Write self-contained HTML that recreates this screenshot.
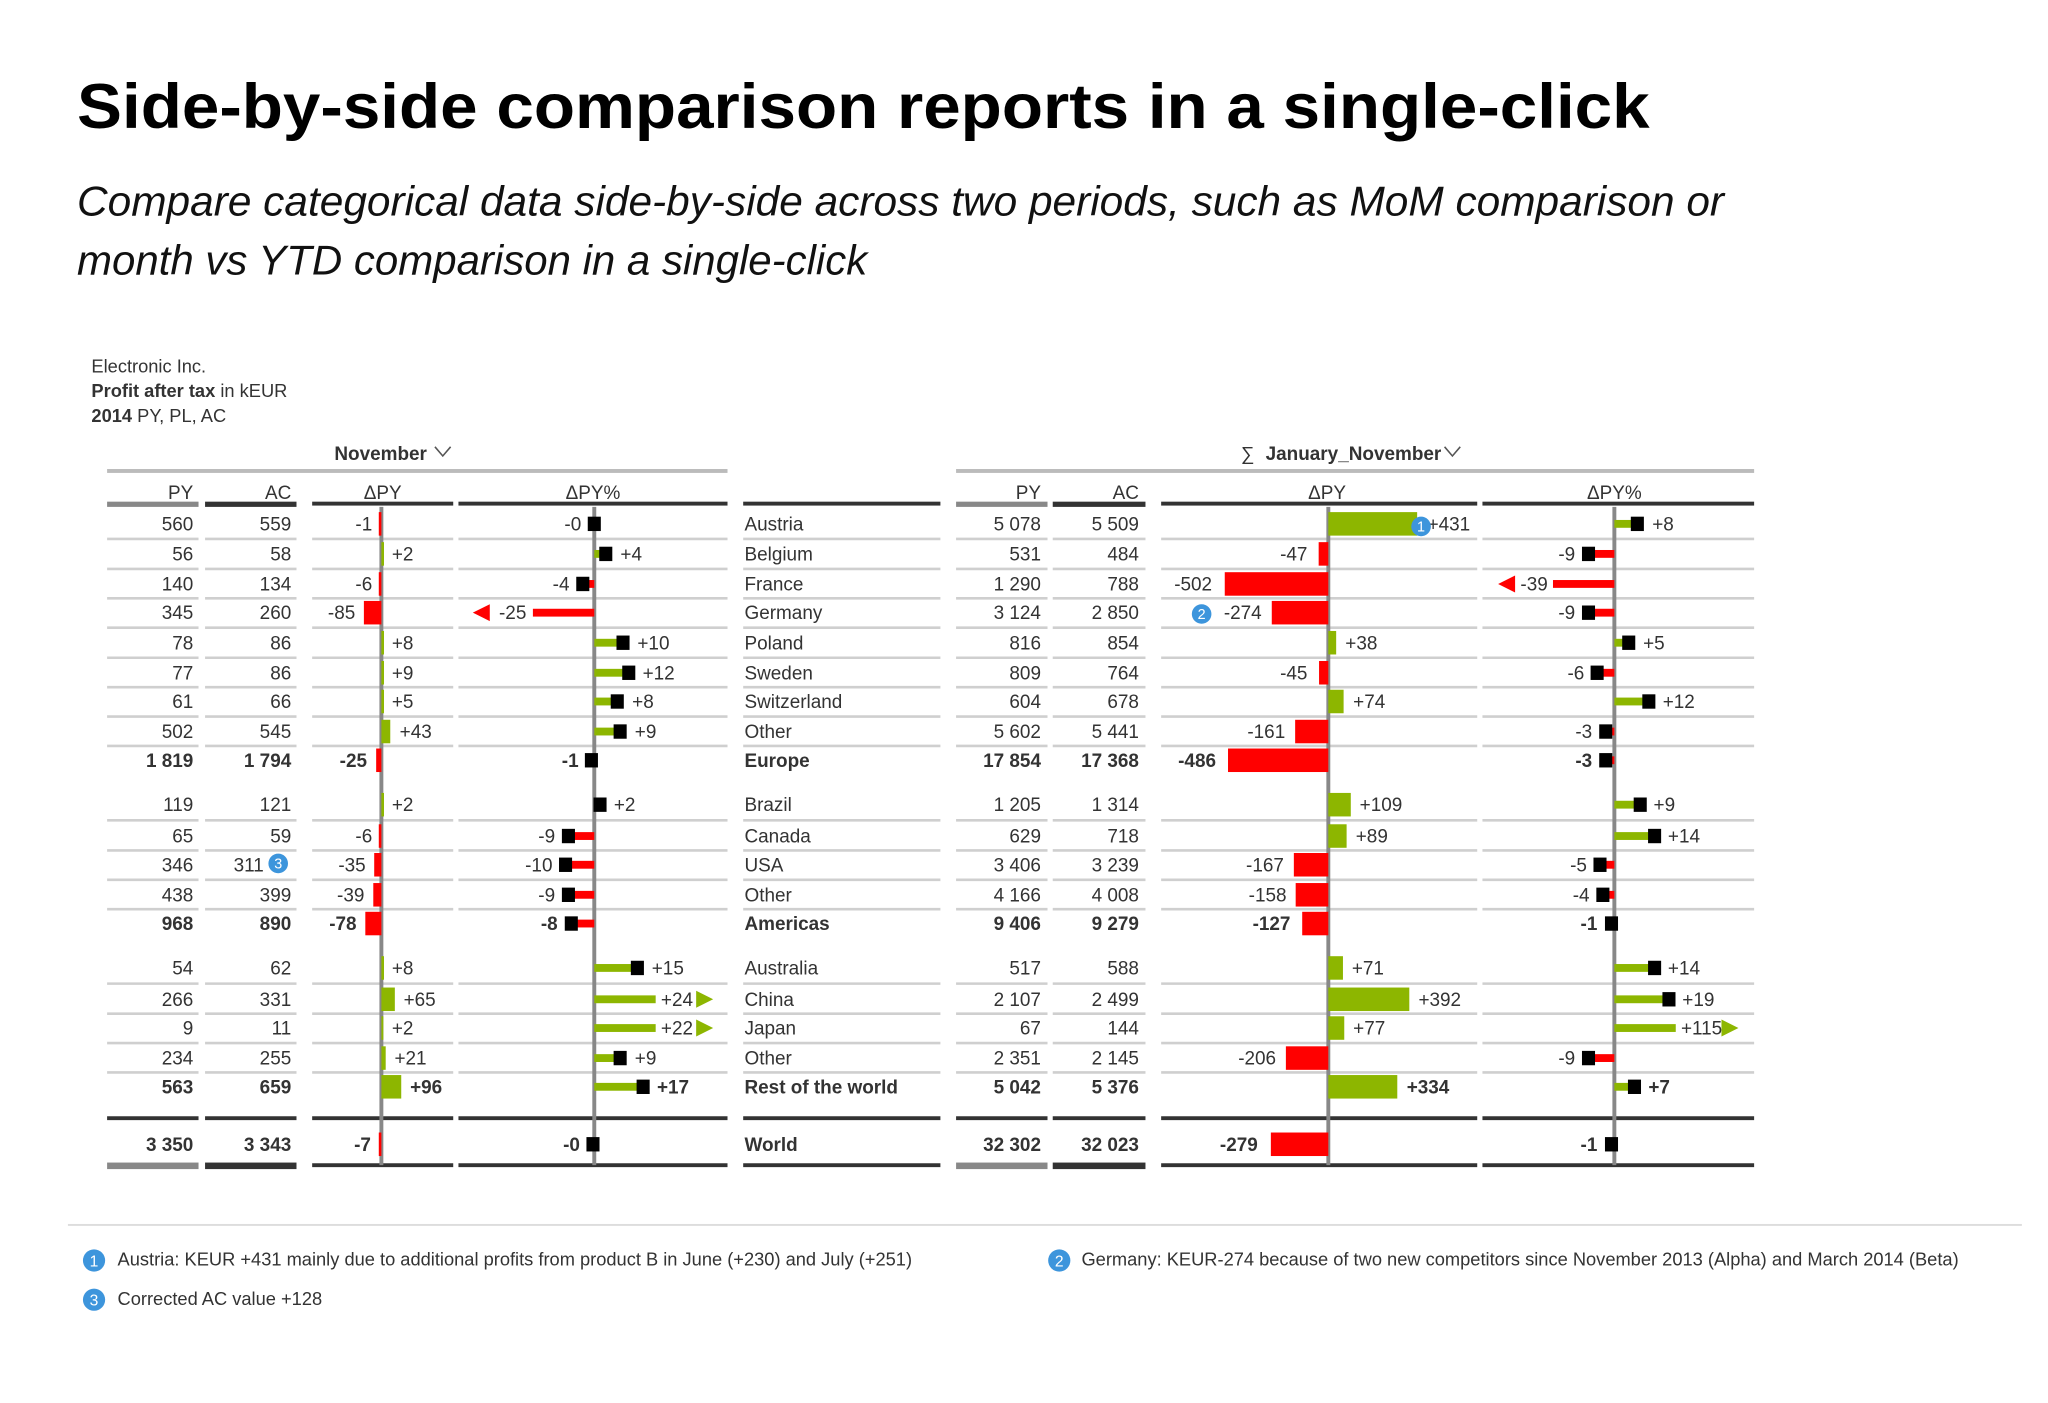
<!DOCTYPE html>
<html><head><meta charset="utf-8"><style>
html,body{margin:0;padding:0;background:#fff;width:2048px;height:1403px;overflow:hidden}
svg{display:block}
text{font-family:"Liberation Sans Narrow","Liberation Sans",sans-serif;fill:#333;font-size:14.5px}
.t{font-family:"Liberation Sans",sans-serif;fill:#000}
.b{font-weight:bold}
.e{text-anchor:end}
.m{text-anchor:middle}
.g{fill:#8db600}.r{fill:#ff0000}.k{fill:#000}
.sep{stroke:#cfcfcf;stroke-width:2}
.s14{font-size:14px}
.n{font-size:11px;fill:#fff}
.n2{font-size:12px;fill:#fff}
</style></head><body>
<svg width="2048" height="1403" viewBox="0 0 1568 1074" xmlns="http://www.w3.org/2000/svg">
<text class="t b" x="59" y="98" style="font-size:48px" textLength="1204" lengthAdjust="spacingAndGlyphs">Side-by-side comparison reports in a single-click</text>
<text class="t" x="59" y="165" style="font-size:32px;font-style:italic;fill:#111" textLength="1261" lengthAdjust="spacingAndGlyphs">Compare categorical data side-by-side across two periods, such as MoM comparison or</text>
<text class="t" x="59" y="210" style="font-size:32px;font-style:italic;fill:#111" textLength="605" lengthAdjust="spacingAndGlyphs">month vs YTD comparison in a single-click</text>

<text class="s14" x="70" y="285">Electronic Inc.</text>
<text class="s14" x="70" y="304"><tspan class="b">Profit after tax</tspan> in kEUR</text>
<text class="s14" x="70" y="323"><tspan class="b">2014</tspan> PY, PL, AC</text>

<text class="b" x="256" y="352">November</text>
<path d="M333 342 l6 7 l6 -7" stroke="#555" fill="none" stroke-width="1.2"/>
<text x="950" y="352">∑</text>
<text class="b" x="969" y="352">January_November</text>
<path d="M1106 342 l6 7 l6 -7" stroke="#555" fill="none" stroke-width="1.2"/>
<rect x="82" y="359" width="475" height="3" fill="#bbb"/>
<rect x="732" y="359" width="611" height="3" fill="#bbb"/>

<text class="e" x="148" y="382">PY</text><text class="e" x="223" y="382">AC</text>
<text class="m" x="293" y="382">ΔPY</text><text class="m" x="454" y="382">ΔPY%</text>
<text class="e" x="797" y="382">PY</text><text class="e" x="872" y="382">AC</text>
<text class="m" x="1016" y="382">ΔPY</text><text class="m" x="1236" y="382">ΔPY%</text>
<g>
<rect x="82" y="384" width="70" height="4" fill="#888"/><rect x="157" y="384" width="70" height="4" fill="#333"/>
<rect x="239" y="384" width="108" height="3" fill="#333"/><rect x="351" y="384" width="206" height="3" fill="#333"/>
<rect x="569" y="384" width="151" height="3" fill="#333"/>
<rect x="732" y="384" width="70" height="4" fill="#888"/><rect x="806" y="384" width="71" height="4" fill="#333"/>
<rect x="889" y="384" width="242" height="3" fill="#333"/><rect x="1135" y="384" width="208" height="3" fill="#333"/>
</g>

<defs><g id="sp">
<path class="sep" d="M82 0H152M157 0H227M239 0H347M351 0H557M569 0H720M732 0H802M806 0H877M889 0H1131M1135 0H1343"/>
</g>
<g id="dk">
<path d="M82 0H152M157 0H227M239 0H347M351 0H557M569 0H720M732 0H802M806 0H877M889 0H1131M1135 0H1343" stroke="#333" stroke-width="3"/>
</g></defs>
<use href="#sp" y="412.5"/><use href="#sp" y="435.5"/><use href="#sp" y="458"/><use href="#sp" y="480.5"/><use href="#sp" y="503.5"/><use href="#sp" y="526"/><use href="#sp" y="548.5"/><use href="#sp" y="571"/>
<use href="#sp" y="628"/><use href="#sp" y="651"/><use href="#sp" y="673.5"/><use href="#sp" y="696"/>
<use href="#sp" y="753"/><use href="#sp" y="776"/><use href="#sp" y="798.5"/><use href="#sp" y="821"/>
<use href="#dk" y="856"/>
<path d="M239 892H347M351 892H557M569 892H720M889 892H1131M1135 892H1343" stroke="#333" stroke-width="3"/>
<rect x="82" y="890" width="70" height="5" fill="#888"/><rect x="157" y="890" width="70" height="5" fill="#333"/>
<rect x="732" y="890" width="70" height="5" fill="#888"/><rect x="806" y="890" width="71" height="5" fill="#333"/>

<!-- axes -->
<g stroke="#888" stroke-width="3">
<path d="M292 388V892M455 388V892M1017 388V892M1236 388V892"/>
</g>

<g>
<text class="e" x="148" y="406">560</text><text class="e" x="223" y="406">559</text>
<text class="e" x="148" y="429">56</text><text class="e" x="223" y="429">58</text>
<text class="e" x="148" y="452">140</text><text class="e" x="223" y="452">134</text>
<text class="e" x="148" y="474">345</text><text class="e" x="223" y="474">260</text>
<text class="e" x="148" y="497">78</text><text class="e" x="223" y="497">86</text>
<text class="e" x="148" y="520">77</text><text class="e" x="223" y="520">86</text>
<text class="e" x="148" y="542">61</text><text class="e" x="223" y="542">66</text>
<text class="e" x="148" y="565">502</text><text class="e" x="223" y="565">545</text>
<text class="e b" x="148" y="587">1 819</text><text class="e b" x="223" y="587">1 794</text>
<text class="e" x="148" y="621">119</text><text class="e" x="223" y="621">121</text>
<text class="e" x="148" y="645">65</text><text class="e" x="223" y="645">59</text>
<text class="e" x="148" y="667">346</text><text class="e" x="202" y="667">311</text>
<text class="e" x="148" y="690">438</text><text class="e" x="223" y="690">399</text>
<text class="e b" x="148" y="712">968</text><text class="e b" x="223" y="712">890</text>
<text class="e" x="148" y="746">54</text><text class="e" x="223" y="746">62</text>
<text class="e" x="148" y="770">266</text><text class="e" x="223" y="770">331</text>
<text class="e" x="148" y="792">9</text><text class="e" x="223" y="792">11</text>
<text class="e" x="148" y="815">234</text><text class="e" x="223" y="815">255</text>
<text class="e b" x="148" y="837">563</text><text class="e b" x="223" y="837">659</text>
<text class="e b" x="148" y="881">3 350</text><text class="e b" x="223" y="881">3 343</text>
</g>
<g>
<text x="570" y="406">Austria</text><text x="570" y="429">Belgium</text><text x="570" y="452">France</text><text x="570" y="474">Germany</text>
<text x="570" y="497">Poland</text><text x="570" y="520">Sweden</text><text x="570" y="542">Switzerland</text><text x="570" y="565">Other</text>
<text class="b" x="570" y="587">Europe</text>
<text x="570" y="621">Brazil</text><text x="570" y="645">Canada</text><text x="570" y="667">USA</text><text x="570" y="690">Other</text>
<text class="b" x="570" y="712">Americas</text>
<text x="570" y="746">Australia</text><text x="570" y="770">China</text><text x="570" y="792">Japan</text><text x="570" y="815">Other</text>
<text class="b" x="570" y="837">Rest of the world</text>
<text class="b" x="570" y="881">World</text>
</g>
<g>
<text class="e" x="797" y="406">5 078</text><text class="e" x="872" y="406">5 509</text>
<text class="e" x="797" y="429">531</text><text class="e" x="872" y="429">484</text>
<text class="e" x="797" y="452">1 290</text><text class="e" x="872" y="452">788</text>
<text class="e" x="797" y="474">3 124</text><text class="e" x="872" y="474">2 850</text>
<text class="e" x="797" y="497">816</text><text class="e" x="872" y="497">854</text>
<text class="e" x="797" y="520">809</text><text class="e" x="872" y="520">764</text>
<text class="e" x="797" y="542">604</text><text class="e" x="872" y="542">678</text>
<text class="e" x="797" y="565">5 602</text><text class="e" x="872" y="565">5 441</text>
<text class="e b" x="797" y="587">17 854</text><text class="e b" x="872" y="587">17 368</text>
<text class="e" x="797" y="621">1 205</text><text class="e" x="872" y="621">1 314</text>
<text class="e" x="797" y="645">629</text><text class="e" x="872" y="645">718</text>
<text class="e" x="797" y="667">3 406</text><text class="e" x="872" y="667">3 239</text>
<text class="e" x="797" y="690">4 166</text><text class="e" x="872" y="690">4 008</text>
<text class="e b" x="797" y="712">9 406</text><text class="e b" x="872" y="712">9 279</text>
<text class="e" x="797" y="746">517</text><text class="e" x="872" y="746">588</text>
<text class="e" x="797" y="770">2 107</text><text class="e" x="872" y="770">2 499</text>
<text class="e" x="797" y="792">67</text><text class="e" x="872" y="792">144</text>
<text class="e" x="797" y="815">2 351</text><text class="e" x="872" y="815">2 145</text>
<text class="e b" x="797" y="837">5 042</text><text class="e b" x="872" y="837">5 376</text>
<text class="e b" x="797" y="881">32 302</text><text class="e b" x="872" y="881">32 023</text>
</g>

<g>
<rect class="r" x="290" y="392" width="2" height="18"/><text class="e" x="285" y="406">-1</text>
<rect class="g" x="292" y="415" width="2" height="18"/><text x="300" y="429">+2</text>
<rect class="r" x="290" y="438" width="2" height="18"/><text class="e" x="285" y="452">-6</text>
<rect class="r" x="278.6" y="460" width="13.4" height="18"/><text class="e" x="272" y="474">-85</text>
<rect class="g" x="292" y="483" width="2" height="18"/><text x="300" y="497">+8</text>
<rect class="g" x="292" y="506" width="2" height="18"/><text x="300" y="520">+9</text>
<rect class="g" x="292" y="528" width="2" height="18"/><text x="300" y="542">+5</text>
<rect class="g" x="292" y="551" width="6.8" height="18"/><text x="306" y="565">+43</text>
<rect class="r" x="288" y="573" width="4" height="18"/><text class="e b" x="281" y="587">-25</text>
<rect class="g" x="292" y="607" width="2" height="18"/><text x="300" y="621">+2</text>
<rect class="r" x="290" y="631" width="2" height="18"/><text class="e" x="285" y="645">-6</text>
<rect class="r" x="286.5" y="653" width="5.5" height="18"/><text class="e" x="280" y="667">-35</text>
<rect class="r" x="285.8" y="676" width="6.2" height="18"/><text class="e" x="279" y="690">-39</text>
<rect class="r" x="279.7" y="698" width="12.3" height="18"/><text class="e b" x="273" y="712">-78</text>
<rect class="g" x="292" y="732" width="2" height="18"/><text x="300" y="746">+8</text>
<rect class="g" x="292" y="756" width="10.3" height="18"/><text x="309" y="770">+65</text>
<rect class="g" x="292" y="778" width="1.5" height="18"/><text x="300" y="792">+2</text>
<rect class="g" x="292" y="801" width="3.3" height="18"/><text x="302" y="815">+21</text>
<rect class="g" x="292" y="823" width="15.2" height="18"/><text class="b" x="314" y="837">+96</text>
<rect class="r" x="290" y="867" width="2" height="18"/><text class="e b" x="284" y="881">-7</text>
</g>

<g>
<rect class="k" x="450" y="395.5" width="10" height="11"/><text class="e" x="445" y="406">-0</text>
<rect class="g" x="455" y="421" width="8.8" height="6"/><rect class="k" x="458.8" y="418.5" width="10" height="11"/><text x="475" y="429">+4</text>
<rect class="r" x="446.2" y="444" width="8.8" height="6"/><rect class="k" x="441.2" y="441.5" width="10" height="11"/><text class="e" x="436" y="452">-4</text>
<rect class="r" x="408" y="466" width="47" height="6"/><text class="e" x="403" y="474">-25</text><path class="r" d="M362 469 L375 462.5 L375 475.5Z"/>
<rect class="g" x="455" y="489" width="22" height="6"/><rect class="k" x="472" y="486.5" width="10" height="11"/><text x="488" y="497">+10</text>
<rect class="g" x="455" y="512" width="26.4" height="6"/><rect class="k" x="476.4" y="509.5" width="10" height="11"/><text x="492" y="520">+12</text>
<rect class="g" x="455" y="534" width="17.6" height="6"/><rect class="k" x="467.6" y="531.5" width="10" height="11"/><text x="484" y="542">+8</text>
<rect class="g" x="455" y="557" width="19.8" height="6"/><rect class="k" x="469.8" y="554.5" width="10" height="11"/><text x="486" y="565">+9</text>
<rect class="k" x="447.8" y="576.5" width="10" height="11"/><text class="e b" x="443" y="587">-1</text>
<rect class="g" x="455" y="613" width="4.4" height="6"/><rect class="k" x="454.4" y="610.5" width="10" height="11"/><text x="470" y="621">+2</text>
<rect class="r" x="435.2" y="637" width="19.8" height="6"/><rect class="k" x="430.2" y="634.5" width="10" height="11"/><text class="e" x="425" y="645">-9</text>
<rect class="r" x="433" y="659" width="22" height="6"/><rect class="k" x="428" y="656.5" width="10" height="11"/><text class="e" x="423" y="667">-10</text>
<rect class="r" x="435.2" y="682" width="19.8" height="6"/><rect class="k" x="430.2" y="679.5" width="10" height="11"/><text class="e" x="425" y="690">-9</text>
<rect class="r" x="437.4" y="704" width="17.6" height="6"/><rect class="k" x="432.4" y="701.5" width="10" height="11"/><text class="e b" x="427" y="712">-8</text>
<rect class="g" x="455" y="738" width="33" height="6"/><rect class="k" x="483" y="735.5" width="10" height="11"/><text x="499" y="746">+15</text>
<rect class="g" x="455" y="762" width="47" height="6"/><text x="506" y="770">+24</text><path class="g" d="M546 765 L533 758.5 L533 771.5Z"/>
<rect class="g" x="455" y="784" width="47" height="6"/><text x="506" y="792">+22</text><path class="g" d="M546 787 L533 780.5 L533 793.5Z"/>
<rect class="g" x="455" y="807" width="19.8" height="6"/><rect class="k" x="469.8" y="804.5" width="10" height="11"/><text x="486" y="815">+9</text>
<rect class="g" x="455" y="829" width="37.4" height="6"/><rect class="k" x="487.4" y="826.5" width="10" height="11"/><text class="b" x="503" y="837">+17</text>
<rect class="k" x="449" y="870.5" width="10" height="11"/><text class="e b" x="444" y="881">-0</text>
</g>

<g>
<rect class="g" x="1017" y="392" width="68" height="18"/><text x="1093" y="406">+431</text>
<rect class="r" x="1009.6" y="415" width="7.4" height="18"/><text class="e" x="1001" y="429">-47</text>
<rect class="r" x="937.7" y="438" width="79.3" height="18"/><text class="e" x="928" y="452">-502</text>
<rect class="r" x="973.7" y="460" width="43.3" height="18"/><text class="e" x="966" y="474">-274</text>
<rect class="g" x="1017" y="483" width="6" height="18"/><text x="1030" y="497">+38</text>
<rect class="r" x="1009.9" y="506" width="7.1" height="18"/><text class="e" x="1001" y="520">-45</text>
<rect class="g" x="1017" y="528" width="11.7" height="18"/><text x="1036" y="542">+74</text>
<rect class="r" x="991.6" y="551" width="25.4" height="18"/><text class="e" x="984" y="565">-161</text>
<rect class="r" x="940.2" y="573" width="76.8" height="18"/><text class="e b" x="931" y="587">-486</text>
<rect class="g" x="1017" y="607" width="17.2" height="18"/><text x="1041" y="621">+109</text>
<rect class="g" x="1017" y="631" width="14" height="18"/><text x="1038" y="645">+89</text>
<rect class="r" x="990.6" y="653" width="26.4" height="18"/><text class="e" x="983" y="667">-167</text>
<rect class="r" x="992" y="676" width="25" height="18"/><text class="e" x="985" y="690">-158</text>
<rect class="r" x="997" y="698" width="20" height="18"/><text class="e b" x="988" y="712">-127</text>
<rect class="g" x="1017" y="732" width="11.2" height="18"/><text x="1035" y="746">+71</text>
<rect class="g" x="1017" y="756" width="62" height="18"/><text x="1086" y="770">+392</text>
<rect class="g" x="1017" y="778" width="12.2" height="18"/><text x="1036" y="792">+77</text>
<rect class="r" x="984.5" y="801" width="32.5" height="18"/><text class="e" x="977" y="815">-206</text>
<rect class="g" x="1017" y="823" width="52.8" height="18"/><text class="b" x="1077" y="837">+334</text>
<rect class="r" x="973" y="867" width="44" height="18"/><text class="e b" x="963" y="881">-279</text>
</g>

<g>
<rect class="g" x="1236" y="398" width="17.6" height="6"/><rect class="k" x="1248.6" y="395.5" width="10" height="11"/><text x="1265" y="406">+8</text>
<rect class="r" x="1216.2" y="421" width="19.8" height="6"/><rect class="k" x="1211.2" y="418.5" width="10" height="11"/><text class="e" x="1206" y="429">-9</text>
<rect class="r" x="1189" y="444" width="47" height="6"/><text class="e" x="1185" y="452">-39</text><path class="r" d="M1147 447 L1160 440.5 L1160 453.5Z"/>
<rect class="r" x="1216.2" y="466" width="19.8" height="6"/><rect class="k" x="1211.2" y="463.5" width="10" height="11"/><text class="e" x="1206" y="474">-9</text>
<rect class="g" x="1236" y="489" width="11" height="6"/><rect class="k" x="1242" y="486.5" width="10" height="11"/><text x="1258" y="497">+5</text>
<rect class="r" x="1222.8" y="512" width="13.2" height="6"/><rect class="k" x="1217.8" y="509.5" width="10" height="11"/><text class="e" x="1213" y="520">-6</text>
<rect class="g" x="1236" y="534" width="26.4" height="6"/><rect class="k" x="1257.4" y="531.5" width="10" height="11"/><text x="1273" y="542">+12</text>
<rect class="r" x="1229.4" y="557" width="6.6" height="6"/><rect class="k" x="1224.4" y="554.5" width="10" height="11"/><text class="e" x="1219" y="565">-3</text>
<rect class="r" x="1229.4" y="579" width="6.6" height="6"/><rect class="k" x="1224.4" y="576.5" width="10" height="11"/><text class="e b" x="1219" y="587">-3</text>
<rect class="g" x="1236" y="613" width="19.8" height="6"/><rect class="k" x="1250.8" y="610.5" width="10" height="11"/><text x="1266" y="621">+9</text>
<rect class="g" x="1236" y="637" width="30.8" height="6"/><rect class="k" x="1261.8" y="634.5" width="10" height="11"/><text x="1277" y="645">+14</text>
<rect class="r" x="1225" y="659" width="11" height="6"/><rect class="k" x="1220" y="656.5" width="10" height="11"/><text class="e" x="1215" y="667">-5</text>
<rect class="r" x="1227.2" y="682" width="8.8" height="6"/><rect class="k" x="1222.2" y="679.5" width="10" height="11"/><text class="e" x="1217" y="690">-4</text>
<rect class="k" x="1228.8" y="701.5" width="10" height="11"/><text class="e b" x="1223" y="712">-1</text>
<rect class="g" x="1236" y="738" width="30.8" height="6"/><rect class="k" x="1261.8" y="735.5" width="10" height="11"/><text x="1277" y="746">+14</text>
<rect class="g" x="1236" y="762" width="41.8" height="6"/><rect class="k" x="1272.8" y="759.5" width="10" height="11"/><text x="1288" y="770">+19</text>
<rect class="g" x="1236" y="784" width="47" height="6"/><text x="1287" y="792">+115</text><path class="g" d="M1331 787 L1318 780.5 L1318 793.5Z"/>
<rect class="r" x="1216.2" y="807" width="19.8" height="6"/><rect class="k" x="1211.2" y="804.5" width="10" height="11"/><text class="e" x="1206" y="815">-9</text>
<rect class="g" x="1236" y="829" width="15.4" height="6"/><rect class="k" x="1246.4" y="826.5" width="10" height="11"/><text class="b" x="1262" y="837">+7</text>
<rect class="k" x="1228.8" y="870.5" width="10" height="11"/><text class="e b" x="1223" y="881">-1</text>
</g>

<g>
<circle cx="1088" cy="403" r="7.5" fill="#3d95dc"/><text class="m n" x="1088" y="407">1</text>
<circle cx="920" cy="470" r="7.5" fill="#3d95dc"/><text class="m n" x="920" y="474">2</text>
<circle cx="213" cy="661" r="7.5" fill="#3d95dc"/><text class="m n" x="213" y="665">3</text>
</g>

<rect x="52" y="937" width="1496" height="1.5" fill="#ddd"/>
<circle cx="72" cy="965" r="8.5" fill="#3d95dc"/><text class="m n2" x="72" y="969.5">1</text>
<text class="s14" x="90" y="969">Austria: KEUR +431 mainly due to additional profits from product B in June (+230) and July (+251)</text>
<circle cx="811" cy="965" r="8.5" fill="#3d95dc"/><text class="m n2" x="811" y="969.5">2</text>
<text class="s14" x="828" y="969">Germany: KEUR-274 because of two new competitors since November 2013 (Alpha) and March 2014 (Beta)</text>
<circle cx="72" cy="995" r="8.5" fill="#3d95dc"/><text class="m n2" x="72" y="999.5">3</text>
<text class="s14" x="90" y="999">Corrected AC value +128</text>
</svg>
</body></html>
